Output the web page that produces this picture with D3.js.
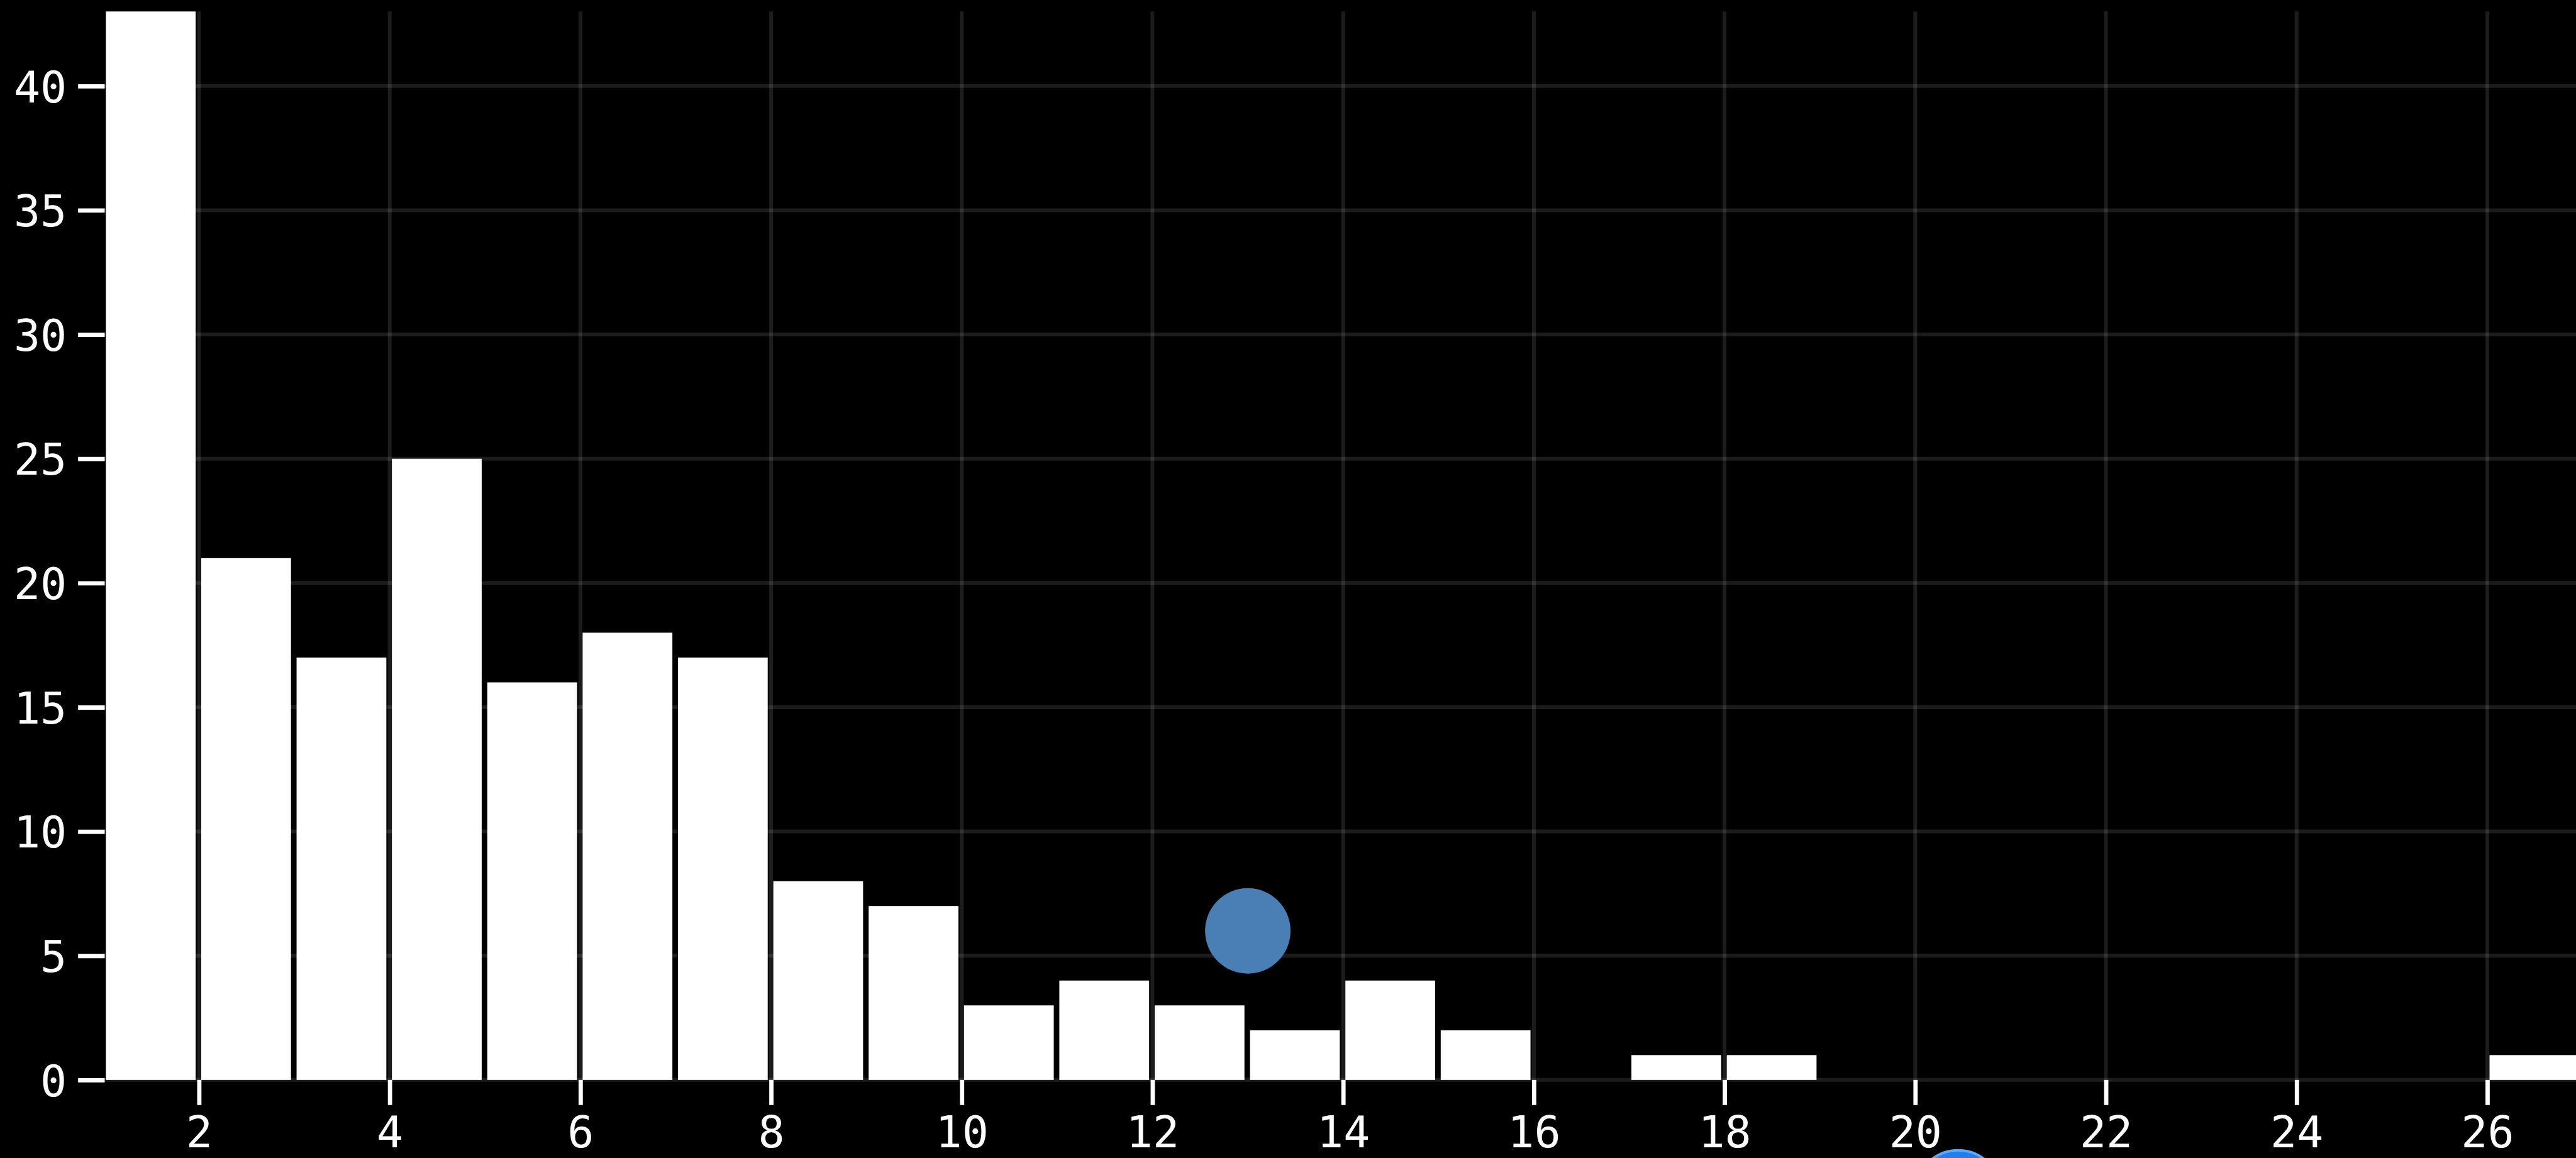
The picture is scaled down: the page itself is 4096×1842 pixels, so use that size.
<!DOCTYPE html>
<html>
<head>
<meta charset="utf-8">
<script src="https://cdn.jsdelivr.net/npm/d3@7"></script>
<style>
  html, body { margin: 0; padding: 0; background: #000; overflow: hidden; }
  svg { display: block; background: #000; }
</style>
</head>
<body>
<script>
// ---- data ----
const binStarts = [1,2,3,4,5,6,7,8,9,10,11,12,13,14,15,16,17,18,19,20,21,22,23,24,25,26];
const binCounts = [43,21,17,25,16,18,17,8,7,3,4,3,2,4,2,0,1,1,0,0,0,0,0,0,0,1];
const xTickValues = [2,4,6,8,10,12,14,16,18,20,22,24,26];
const yTickValues = [0,5,10,15,20,25,30,35,40];
const pointX = [13];
const pointY = [6];
const markerX = [20.45];
const markerY = [-4.55];

// ---- layout ----
const W = 4096, H = 1842, S = 0.887;
const svg = d3.select("body").append("svg").attr("width", W).attr("height", H);

const x = d3.scaleLinear().domain([1, 27]).range([185.8 * S, (185.8 + 26 * 170.92) * S]);
const y = d3.scaleLinear().domain([0, 43]).range([1936.7 * S, 20.6 * S]);

const bins = binStarts.map((s, i) => ({ x0: s, x1: s + 1, n: binCounts[i] }));

const font = "'DejaVu Sans Mono', 'Liberation Mono', monospace";
const fontSize = 70;
const gridColor = "rgba(255,255,255,0.11)";
const gridW = 6;
const tickW = 6.8;

// grid
const grid = svg.append("g");
grid.selectAll("line.v").data(xTickValues).join("line")
  .attr("class", "v")
  .attr("x1", d => x(d)).attr("x2", d => x(d))
  .attr("y1", y(43)).attr("y2", y(0))
  .attr("stroke", gridColor).attr("stroke-width", gridW);
grid.selectAll("line.h").data(yTickValues).join("line")
  .attr("class", "h")
  .attr("x1", x(1)).attr("x2", W)
  .attr("y1", d => y(d)).attr("y2", d => y(d))
  .attr("stroke", gridColor).attr("stroke-width", gridW);

// bars
svg.append("g").selectAll("rect").data(bins.filter(b => b.n > 0)).join("rect")
  .attr("x", d => x(d.x0) + 4 * S)
  .attr("width", d => Math.max(0, x(d.x1) - x(d.x0) - 10 * S))
  .attr("y", d => y(d.n))
  .attr("height", d => y(0) - y(d.n))
  .attr("fill", "#fff");

// points
svg.append("g").selectAll("circle").data(pointX.map((v, i) => [v, pointY[i]])).join("circle")
  .attr("cx", d => x(d[0])).attr("cy", d => y(d[1]))
  .attr("r", 76.6 * S)
  .attr("fill", "#4a7fb5");

svg.append("g").selectAll("circle").data(markerX.map((v, i) => [v, markerY[i]])).join("circle")
  .attr("cx", d => x(d[0])).attr("cy", d => y(d[1]))
  .attr("r", 76.6 * S)
  .attr("fill", "#1f7fec")
  .attr("stroke", "#5ea8ff").attr("stroke-width", 4);

// axes
const yTickLen = 47.7 * S;
const xTickLen = 45 * S;

const yAxis = svg.append("g")
  .attr("transform", `translate(${187.7 * S},0)`)
  .call(d3.axisLeft(y).tickValues(yTickValues).tickSize(yTickLen).tickPadding(18));
yAxis.select(".domain").remove();
yAxis.selectAll(".tick line").attr("stroke", "#fff").attr("stroke-width", tickW);
yAxis.selectAll(".tick text")
  .attr("fill", "#fff")
  .style("font-family", font).style("font-size", fontSize + "px")
  .attr("dy", "0.36em");

const xAxis = svg.append("g")
  .attr("transform", `translate(0,${y(0)})`)
  .call(d3.axisBottom(x).tickValues(xTickValues).tickSize(xTickLen));
xAxis.select(".domain").remove();
xAxis.selectAll(".tick line").attr("stroke", "#fff").attr("stroke-width", tickW);
xAxis.selectAll(".tick text")
  .attr("fill", "#fff")
  .attr("y", (H - 17) - y(0))
  .attr("dy", 0)
  .style("font-family", font).style("font-size", fontSize + "px");
</script>
</body>
</html>
